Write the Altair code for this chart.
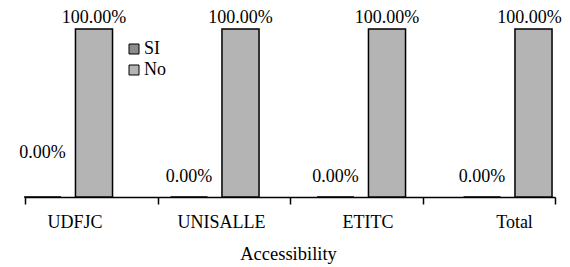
import altair as alt
import pandas as pd

categories = ["UDFJC", "UNISALLE", "ETITC", "Total"]
series = ["SI", "No"]
si_values = [0.0, 0.0, 0.0, 0.0]
no_values = [1.0, 1.0, 1.0, 1.0]

rows = []
for c, s_v, n_v in zip(categories, si_values, no_values):
    rows.append({"inst": c, "serie": "SI", "val": s_v})
    rows.append({"inst": c, "serie": "No", "val": n_v})
df = pd.DataFrame(rows)

FONT = "'Liberation Serif', 'Times New Roman', Times, serif"

xA = alt.X(
    "inst:N", sort=categories,
    scale=alt.Scale(range=[-30, 556], paddingInner=0, paddingOuter=0),
    axis=alt.Axis(orient="bottom", domain=False, ticks=False, labelOffset=6.75,
                  labelFont=FONT, labelFontSize=18, labelColor="black", labelPadding=16,
                  labelAngle=0, title="Accessibility", titleFont=FONT, titleFontSize=18.5,
                  titleFontWeight="normal", titleColor="black", titlePadding=13),
)
xoff = alt.XOffset("serie:N", sort=series,
                   scale=alt.Scale(domain=series, paddingInner=0.28, paddingOuter=0.5625))
y = alt.Y("val:Q", scale=alt.Scale(domain=[0, 1]), axis=None)

bars = alt.Chart(df).mark_bar(stroke="black", strokeWidth=1.5).encode(
    x=xA, xOffset=xoff, y=y,
    color=alt.Color("serie:N", sort=series,
                    scale=alt.Scale(domain=series, range=["#8c8c8c", "#b4b4b4"]),
                    legend=alt.Legend(orient="none", legendX=100, legendY=11, title=None,
                                      symbolType="square", symbolSize=100,
                                      symbolStrokeColor="black", symbolStrokeWidth=1,
                                      labelFont=FONT, labelFontSize=18, labelColor="black",
                                      rowPadding=3, padding=0, labelOffset=1)),
)

txt = dict(font=FONT, fontSize=18, baseline="alphabetic", color="black")
t_no = alt.Chart(df).transform_filter("datum.serie == 'No' && datum.inst != 'Total'").mark_text(dy=-6, **txt).encode(
    x=xA, xOffset=xoff, y=y, text=alt.Text("val:Q", format=".2%"))
t_no_t = alt.Chart(df).transform_filter("datum.serie == 'No' && datum.inst == 'Total'").mark_text(dy=-6, dx=-4, **txt).encode(
    x=xA, xOffset=xoff, y=y, text=alt.Text("val:Q", format=".2%"))
t_si = alt.Chart(df).transform_filter("datum.serie == 'SI' && datum.inst != 'UDFJC'").mark_text(dy=-15, **txt).encode(
    x=xA, xOffset=xoff, y=y, text=alt.Text("val:Q", format=".2%"))
t_si_u = alt.Chart(df).transform_filter("datum.serie == 'SI' && datum.inst == 'UDFJC'").mark_text(dy=-39, **txt).encode(
    x=xA, xOffset=xoff, y=y, text=alt.Text("val:Q", format=".2%"))

xB = alt.X(
    "inst:N", sort=categories,
    scale=alt.Scale(paddingInner=0, paddingOuter=0),
    axis=alt.Axis(orient="bottom", domain=True, domainColor="black", domainWidth=1.5,
                  ticks=True, tickBand="extent", tickColor="black", tickWidth=1.5,
                  tickSize=7, labels=False, title=None, grid=False),
)
axis_layer = alt.Chart(df).mark_point(opacity=0).encode(x=xB)

chart = alt.layer(
    alt.layer(bars, t_no, t_no_t, t_si, t_si_u),
    axis_layer,
).resolve_scale(x="independent").properties(
    width=530, height=168,
    padding={"left": 17, "top": 21, "right": 7, "bottom": 72},
    autosize=alt.AutoSizeParams(type="none"),
).configure_view(stroke=None)

chart.save("out.html", embed_options={"renderer": "svg", "actions": False})
